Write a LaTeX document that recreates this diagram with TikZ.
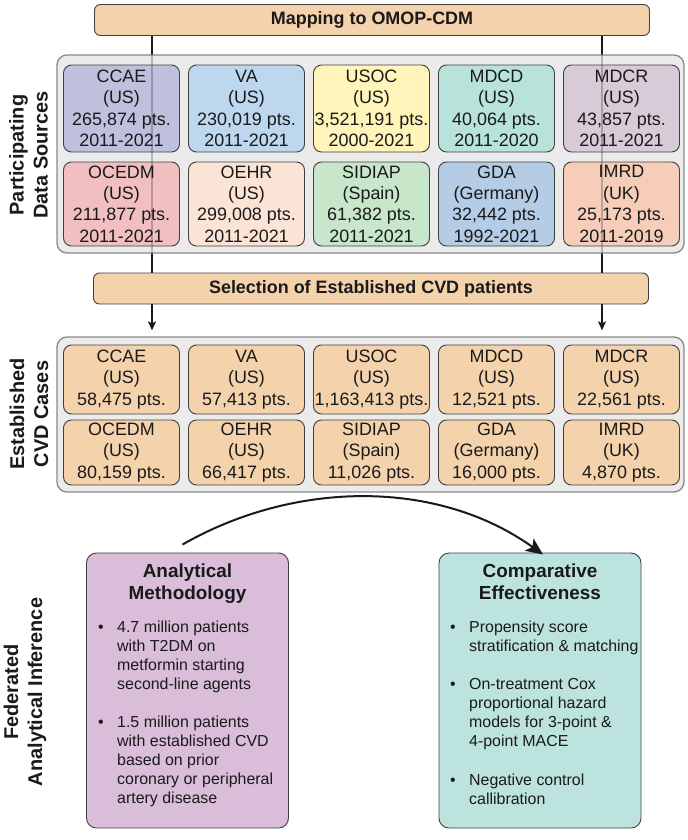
\documentclass[tikz,border=0pt]{standalone}
\usepackage{fontspec}
\setmainfont{Liberation Sans}
\usetikzlibrary{arrows.meta,calc}
\definecolor{tan}{HTML}{F4D2AC}
\definecolor{panelgray}{HTML}{EBEBEB}
\definecolor{panelline}{HTML}{8A8A8A}
\definecolor{boxline}{HTML}{404040}
\definecolor{txt}{HTML}{1A1A1A}
\definecolor{cCCAE}{HTML}{BFC0DE}
\definecolor{cVA}{HTML}{BDD7EE}
\definecolor{cUSOC}{HTML}{FFF5BA}
\definecolor{cMDCD}{HTML}{B8E3DB}
\definecolor{cMDCR}{HTML}{D8CAD6}
\definecolor{cOCEDM}{HTML}{F2BFC1}
\definecolor{cOEHR}{HTML}{FBE4D5}
\definecolor{cSIDIAP}{HTML}{C8E6CA}
\definecolor{cGDA}{HTML}{B4CCE6}
\definecolor{cIMRD}{HTML}{F6CDB9}
\definecolor{cAna}{HTML}{D9BDD9}
\definecolor{cComp}{HTML}{BDE3DE}
\begin{document}
\begin{tikzpicture}[x=1bp,y=-1bp,
  panel/.style={draw=panelline, line width=1.3bp, fill=panelgray, rounded corners=10bp, inner sep=0, minimum width=627bp},
  srcbox/.style={draw=boxline, line width=0.9bp, rounded corners=8bp, inner sep=0, minimum width=116bp, align=center, text=txt, font=\fontsize{18}{21.5}\selectfont},
  casebox/.style={srcbox, fill=tan},
  bar/.style={draw=boxline, line width=0.9bp, rounded corners=6bp, fill=tan, inner sep=0, minimum width=555bp, minimum height=31bp, text=txt, font=\bfseries\fontsize{18}{21}\selectfont},
  side/.style={rotate=90, align=center, text=txt, font=\bfseries\fontsize{20}{24}\selectfont},
  bigbox/.style={draw=boxline, line width=0.9bp, rounded corners=10bp, inner sep=0, minimum width=202bp, minimum height=275bp},
  btitle/.style={anchor=north, align=center, inner sep=0, text=txt, font=\bfseries\fontsize{19}{22}\selectfont},
  btext/.style={anchor=north west, align=left, inner sep=0, text=txt, font=\fontsize{16}{19}\selectfont},
  bdot/.style={anchor=north, inner sep=0, text=txt, font=\fontsize{16}{19}\selectfont},
  conn/.style={draw=txt, line width=1.4bp},
  arr/.style={conn, -{Stealth[length=9bp,width=8bp,inset=2bp]}, shorten >=6bp},
]
\useasboundingbox (0,0) rectangle (688,840);
\fill[white] (0,0) rectangle (688,840);

\coordinate (lx) at (152,0);
\coordinate (rx) at (602,0);

% bars
\node[bar] (map) at (372,20) {Mapping to OMOP-CDM};
\node[bar] (sel) at (371,288.5) {Selection of Established CVD patients};

% connectors behind panel 1
\draw[conn] (map.south -| lx) -- (sel.north -| lx);
\draw[conn] (map.south -| rx) -- (sel.north -| rx);

% panel 1
\node[panel, minimum height=198bp] (p1) at (370.5,154) {};
\node[srcbox, fill=cCCAE, minimum height=87bp] (s1) at (121.5,108.5) {CCAE\\(US)\\265,874 pts.\\2011-2021};
\node[srcbox, fill=cVA, minimum height=87bp] (s2) at (246.5,108.5) {VA\\(US)\\230,019 pts.\\2011-2021};
\node[srcbox, fill=cUSOC, minimum height=87bp] (s3) at (371.5,108.5) {USOC\\(US)\\3,521,191 pts.\\2000-2021};
\node[srcbox, fill=cMDCD, minimum height=87bp] (s4) at (496.5,108.5) {MDCD\\(US)\\40,064 pts.\\2011-2020};
\node[srcbox, fill=cMDCR, minimum height=87bp] (s5) at (621.5,108.5) {MDCR\\(US)\\43,857 pts.\\2011-2021};
\node[srcbox, fill=cOCEDM, minimum height=84bp] (s6) at (121.5,204) {OCEDM\\(US)\\211,877 pts.\\2011-2021};
\node[srcbox, fill=cOEHR, minimum height=84bp] (s7) at (246.5,204) {OEHR\\(US)\\299,008 pts.\\2011-2021};
\node[srcbox, fill=cSIDIAP, minimum height=84bp] (s8) at (371.5,204) {SIDIAP\\(Spain)\\61,382 pts.\\2011-2021};
\node[srcbox, fill=cGDA, minimum height=84bp] (s9) at (496.5,204) {GDA\\(Germany)\\32,442 pts.\\1992-2021};
\node[srcbox, fill=cIMRD, minimum height=84bp] (s10) at (621.5,204) {IMRD\\(UK)\\25,173 pts.\\2011-2019};

% faint line showing through panel 1
\draw[conn, opacity=0.25] (p1.north -| lx) -- (p1.south -| lx);
\draw[conn, opacity=0.25] (p1.north -| rx) -- (p1.south -| rx);

% panel 2
\node[panel, minimum height=155bp] (p2) at (370.5,414.5) {};
\node[casebox, minimum height=69bp] (c1) at (121.5,379.5) {CCAE\\(US)\\58,475 pts.};
\node[casebox, minimum height=69bp] (c2) at (246.5,379.5) {VA\\(US)\\57,413 pts.};
\node[casebox, minimum height=69bp] (c3) at (371.5,379.5) {USOC\\(US)\\1,163,413 pts.};
\node[casebox, minimum height=69bp] (c4) at (496.5,379.5) {MDCD\\(US)\\12,521 pts.};
\node[casebox, minimum height=69bp] (c5) at (621.5,379.5) {MDCR\\(US)\\22,561 pts.};
\node[casebox, minimum height=65bp] (c6) at (121.5,452.5) {OCEDM\\(US)\\80,159 pts.};
\node[casebox, minimum height=65bp] (c7) at (246.5,452.5) {OEHR\\(US)\\66,417 pts.};
\node[casebox, minimum height=65bp] (c8) at (371.5,452.5) {SIDIAP\\(Spain)\\11,026 pts.};
\node[casebox, minimum height=65bp] (c9) at (496.5,452.5) {GDA\\(Germany)\\16,000 pts.};
\node[casebox, minimum height=65bp] (c10) at (621.5,452.5) {IMRD\\(UK)\\4,870 pts.};

% arrows to panel 2
\draw[arr] (sel.south -| lx) -- (p2.north -| lx);
\draw[arr] (sel.south -| rx) -- (p2.north -| rx);

% side labels
\node[side] (lab1) at (28.5,155) {Participating\\Data Sources};
\node[side] (lab2) at (29,414) {Established\\CVD Cases};
\node[side] (lab3) at (25,692) {Federated\\Analytical Inference};

% bottom boxes
\node[bigbox, fill=cAna] (ana) at (187.5,690.5) {};
\node[bigbox, fill=cComp] (comp) at (540,690.5) {};

\node[btitle] (anat) at (187.5,562) {\strut Analytical\\Methodology};
\node[btitle] (compt) at (540,562) {\strut Comparative\\Effectiveness};

\node[bdot] (ad1) at (101,619) {\strut •};
\node[btext] (at1) at (117,619) {\strut 4.7 million patients\\with T2DM on\\metformin starting\\second-line agents};
\node[bdot] (ad2) at (101,714) {\strut •};
\node[btext] (at2) at (117,714) {\strut 1.5 million patients\\with established CVD\\based on prior\\coronary or peripheral\\artery disease};

\node[bdot] (cd1) at (453,619) {\strut •};
\node[btext] (ct1) at (469,619) {\strut Propensity score\\stratification \& matching};
\node[bdot] (cd2) at (453,676) {\strut •};
\node[btext] (ct2) at (469,676) {\strut On-treatment Cox\\proportional hazard\\models for 3-point \&\\4-point MACE};
\node[bdot] (cd3) at (453,772) {\strut •};
\node[btext] (ct3) at (469,772) {\strut Negative control\\callibration};

% curved arrow
\coordinate (arcS) at ($(ana.north)+(-5,-8)$);
\coordinate (arcE) at ($(comp.north)+(3,2)$);
\draw[draw=txt, line width=2bp, -{Stealth[length=17bp,width=15bp,inset=4bp]}] (arcS) .. controls (295,480) and (438,479) .. (arcE);
\end{tikzpicture}
\end{document}
